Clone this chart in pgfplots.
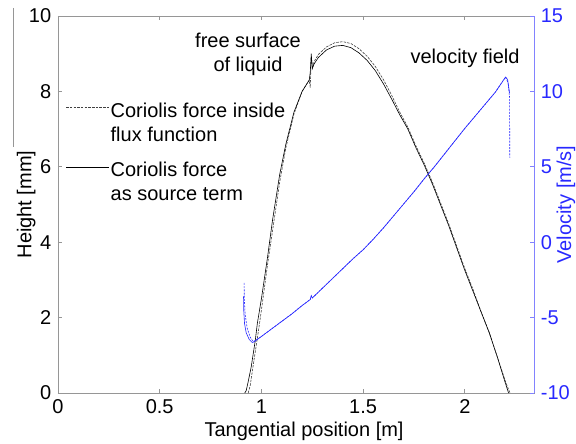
\documentclass[border=0pt]{standalone}
\usepackage{pgfplots}
\pgfplotsset{compat=1.18}
\usepackage{fontspec}
\setmainfont{Liberation Sans}
\definecolor{vblue}{RGB}{40,40,255}
\definecolor{axblue}{RGB}{130,130,255}
\definecolor{axgray}{RGB}{150,150,150}
\begin{document}
\fontsize{20bp}{24bp}\selectfont
\begin{tikzpicture}
\useasboundingbox (-58bp,-51bp) rectangle (518bp,393bp);
\draw[axgray, line width=0.8bp] (-45bp,385bp) -- (-45bp,246bp);
\begin{axis}[
 at={(0,0)}, anchor=south west, scale only axis, width=476bp, height=377bp,
 xmin=0, xmax=2.34, ymin=0, ymax=10,
 xtick={0,0.5,1,1.5,2}, xticklabels={0,0.5,1,1.5,2},
 ytick={0,2,4,6,8,10}, yticklabels={0,2,4,6,8,10},
 ytick pos=left,
 tick align=inside, major tick length=4bp,
 axis line style={axgray, line width=0.8bp},
 every tick/.style={axgray, line width=0.8bp},
 xlabel={Tangential position [m]}, ylabel={Height [mm]},
 xlabel style={at={(axis description cs:0.517,-0.101)}, anchor=center},
 ylabel style={at={(axis description cs:-0.067,0.5)}, anchor=center},
 legend style={draw=none, fill=none, at={(axis description cs:0.0105,0.78)}, anchor=north west,
   cells={align=left}, row sep=15bp, column sep=0pt, nodes={inner sep=1.5bp}},
 legend cell align=left,
 legend image code/.code={\path[draw=none] (0bp,0bp) rectangle (43bp,0bp); \draw[#1, overlay] (0bp,16bp) -- (43bp,16bp);},
]
\addplot[black!75, line width=0.6bp, dash pattern=on 2.5bp off 1.2bp] coordinates {
(0.935,0) (0.945,0.2) (0.96,0.75) (0.98,1.45) (1.00,2.2) (1.03,3.4) (1.06,4.5) (1.09,5.6)
(1.12,6.5) (1.16,7.4) (1.20,8.0) (1.235,8.3) (1.24,8.1) (1.245,8.9) (1.252,8.65) (1.26,8.8)
(1.28,8.98) (1.32,9.18) (1.36,9.29) (1.40,9.32) (1.44,9.27) (1.48,9.13) (1.52,8.93) (1.56,8.66)
(1.60,8.31) (1.64,7.9) (1.68,7.45) (1.72,7.05) (1.76,6.55) (1.80,6.1) (1.84,5.6) (1.88,5.05)
(1.92,4.5) (1.96,3.9) (2.00,3.3) (2.04,2.75) (2.08,2.15) (2.12,1.6) (2.16,0.95) (2.20,0.3) (2.222,0)
};
\addlegendentry{Coriolis force inside\\flux function}
\addplot[black, line width=0.6bp] coordinates {
(0.918,0) (0.925,0.06) (0.935,0.3) (0.95,0.7) (0.97,1.4) (0.98,1.85) (1.00,2.5) (1.03,3.6)
(1.055,4.6) (1.09,5.8) (1.12,6.6) (1.16,7.45) (1.20,8.0) (1.235,8.3) (1.24,8.5) (1.245,9.0)
(1.25,8.6) (1.258,8.72) (1.28,8.9) (1.32,9.1) (1.36,9.2) (1.40,9.22) (1.44,9.16) (1.48,9.02)
(1.52,8.82) (1.56,8.55) (1.60,8.2) (1.64,7.8) (1.68,7.38) (1.72,7.0) (1.76,6.5) (1.80,6.05)
(1.84,5.55) (1.88,5.0) (1.92,4.45) (1.96,3.85) (2.00,3.25) (2.04,2.7) (2.08,2.15) (2.12,1.6)
(2.16,0.95) (2.20,0.25) (2.215,0)
};
\addlegendentry{Coriolis force\\as source term}
\node[align=center] at (axis cs:0.934,8.99) {free surface\\of liquid};
\node at (axis cs:2.001,8.89) {velocity field};
\end{axis}
\begin{axis}[
 at={(0,0)}, anchor=south west, scale only axis, width=476bp, height=377bp,
 xmin=0, xmax=2.34, ymin=-10, ymax=15,
 axis x line=none, axis y line*=right,
 ytick={-10,-5,0,5,10,15}, yticklabels={-10,-5,0,5,10,15},
 y axis line style={axblue, line width=0.8bp},
 every tick/.style={axblue, line width=0.8bp},
 tick align=inside, major tick length=4bp,
 yticklabel style={text=vblue},
 ylabel={Velocity [m/s]},
 ylabel style={text=vblue, at={(axis description cs:1.067,0.5)}, anchor=center},
]
\addplot[vblue, line width=0.6bp, dash pattern=on 2bp off 1.2bp] coordinates {
(0.915,-2.7) (0.916,-3.8) (0.92,-4.8) (0.93,-5.7) (0.945,-6.3) (0.96,-6.6) (1.00,-6.25)
(1.05,-5.75) (1.10,-5.25) (1.15,-4.75) (1.20,-4.2) (1.24,-3.8) (1.245,-3.55) (1.25,-3.7)
(1.30,-3.05) (1.35,-2.4) (1.40,-1.75) (1.45,-1.1) (1.50,-0.5) (1.55,0.2) (1.60,0.95)
(1.65,1.75) (1.70,2.55) (1.75,3.35) (1.80,4.2) (1.85,5.0) (1.90,5.85) (1.95,6.7) (2.00,7.55)
(2.05,8.35) (2.10,9.15) (2.15,9.95) (2.20,10.95) (2.212,10.6) (2.22,9.6) (2.221,5.6)
};
\addplot[vblue, line width=0.6bp] coordinates {
(0.912,-3.6) (0.913,-4.5) (0.917,-5.4) (0.925,-6.0) (0.94,-6.45) (0.955,-6.65) (0.965,-6.6)
(1.00,-6.25) (1.05,-5.75) (1.10,-5.25) (1.15,-4.75) (1.20,-4.2) (1.24,-3.8) (1.245,-3.55)
(1.25,-3.7) (1.30,-3.05) (1.35,-2.4) (1.40,-1.75) (1.45,-1.1) (1.50,-0.5) (1.55,0.2)
(1.60,0.95) (1.65,1.75) (1.70,2.55) (1.75,3.35) (1.80,4.2) (1.85,5.0) (1.90,5.85) (1.95,6.7)
(2.00,7.55) (2.05,8.35) (2.10,9.15) (2.15,9.95) (2.20,10.95) (2.21,10.8) (2.22,9.9)
};
\end{axis}
\end{tikzpicture}
\end{document}
